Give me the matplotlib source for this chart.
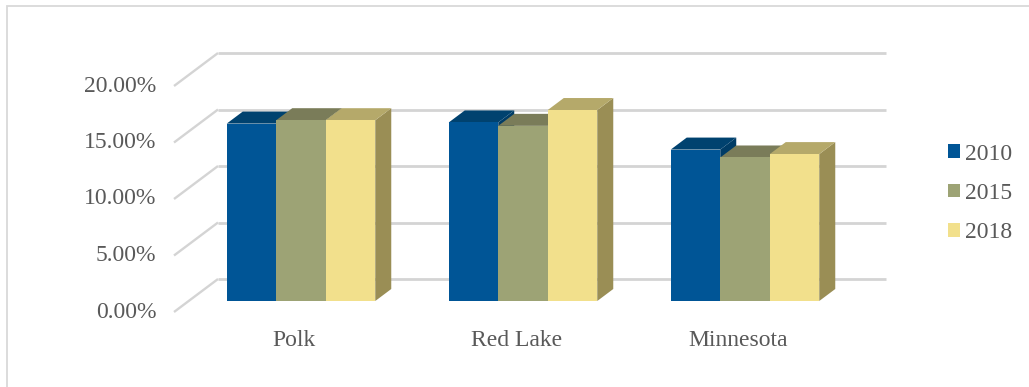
import matplotlib
matplotlib.use("Agg")
import matplotlib.pyplot as plt
from matplotlib.patches import Patch, Rectangle

# === DATA ===
categories = ["Polk", "Red Lake", "Minnesota"]
years = ["2010", "2015", "2018"]
pct_2010 = [15.7, 15.8, 13.4]
pct_2015 = [16.0, 15.5, 12.7]
pct_2018 = [16.0, 16.9, 13.0]
y_ticks = [0, 5, 10, 15, 20]

# === STYLE ===
front_colors = ["#005596", "#9da375", "#f2e08c"]
top_colors = ["#00426f", "#7a7c59", "#b5a96a"]
side_colors = ["#003c66", "#767a55", "#9a8e55"]
grid_color = "#d4d4d4"
text_color = "#595959"
FONT = "Liberation Serif"
FS = 17

W, H, DPI = 1029, 387, 100
PX_X = 222.0   # pixels per category step
PX_Y = 11.3    # pixels per percentage point
X0, Y0 = 301.0, 301.0  # pixel position of first category / zero line

BAR_W = 0.223
BAR_DX, BAR_DY = 16 / PX_X, 12 / PX_Y        # bar depth
BACK_DX, BACK_DY = 29.6 / PX_X, 22 / PX_Y    # bar front -> back wall
WALL_DX, WALL_DY = -44 / PX_X, -33 / PX_Y    # back wall -> front edge of side wall
WALL_LEFT, WALL_RIGHT = (218 - X0) / PX_X, (886 - X0) / PX_X

fig = plt.figure(figsize=(W / DPI, H / DPI), dpi=DPI)
ax = fig.add_axes([0, 0, 1, 1])
ax.set_xlim(-X0 / PX_X, (W - X0) / PX_X)
ax.set_ylim((Y0 - H) / PX_Y, Y0 / PX_Y)
ax.axis("off")

# chart frame
fig.patches.append(Rectangle((7 / W, -0.1), 1.2, 1 - 6 / H + 0.1, transform=fig.transFigure,
                             fill=False, edgecolor="#d9d9d9", lw=1.3))

# back wall and side wall gridlines
for v in y_ticks:
    yb = v + BACK_DY
    ax.plot([WALL_LEFT, WALL_RIGHT], [yb, yb], color=grid_color, lw=2.0,
            solid_capstyle="butt", zorder=1)
    ax.plot([WALL_LEFT, WALL_LEFT + WALL_DX], [yb, yb + WALL_DY], color=grid_color, lw=1.7,
            solid_capstyle="butt", zorder=1)
    ax.text(WALL_LEFT + WALL_DX - 0.08, yb + WALL_DY, f"{v:.2f}%", ha="right", va="center",
            fontsize=FS, family=FONT, color=text_color)

# 3d-looking clustered bars
series = [pct_2010, pct_2015, pct_2018]
offsets = [-BAR_W, 0, BAR_W]
for ci in range(len(categories)):
    for si, vals in enumerate(series):
        x = ci + offsets[si]
        v = vals[ci]
        xl, xr = x - BAR_W / 2, x + BAR_W / 2
        ax.fill([xr, xr + BAR_DX, xr + BAR_DX, xr], [0, BAR_DY, v + BAR_DY, v],
                color=side_colors[si], lw=0, zorder=2)
        ax.fill([xl, xr, xr + BAR_DX, xl + BAR_DX], [v, v, v + BAR_DY, v + BAR_DY],
                color=top_colors[si], lw=0, zorder=2)
        ax.bar(x, v, width=BAR_W, color=front_colors[si], lw=0, zorder=3)

for ci, name in enumerate(categories):
    ax.text(ci - 0.03, -3.5, name, ha="center", va="center", fontsize=FS,
            family=FONT, color=text_color)

handles = [Patch(facecolor=c, edgecolor="none") for c in front_colors]
leg = fig.legend(handles, years, loc="center left", bbox_to_anchor=(948 / W, 1 - 193.5 / H),
                 frameon=False, borderpad=0, borderaxespad=0, handlelength=0.51,
                 handleheight=0.51, handletextpad=0.22, labelspacing=0.78,
                 prop={"family": FONT, "size": FS})
for t in leg.get_texts():
    t.set_color(text_color)

fig.savefig("out.png", dpi=DPI)
